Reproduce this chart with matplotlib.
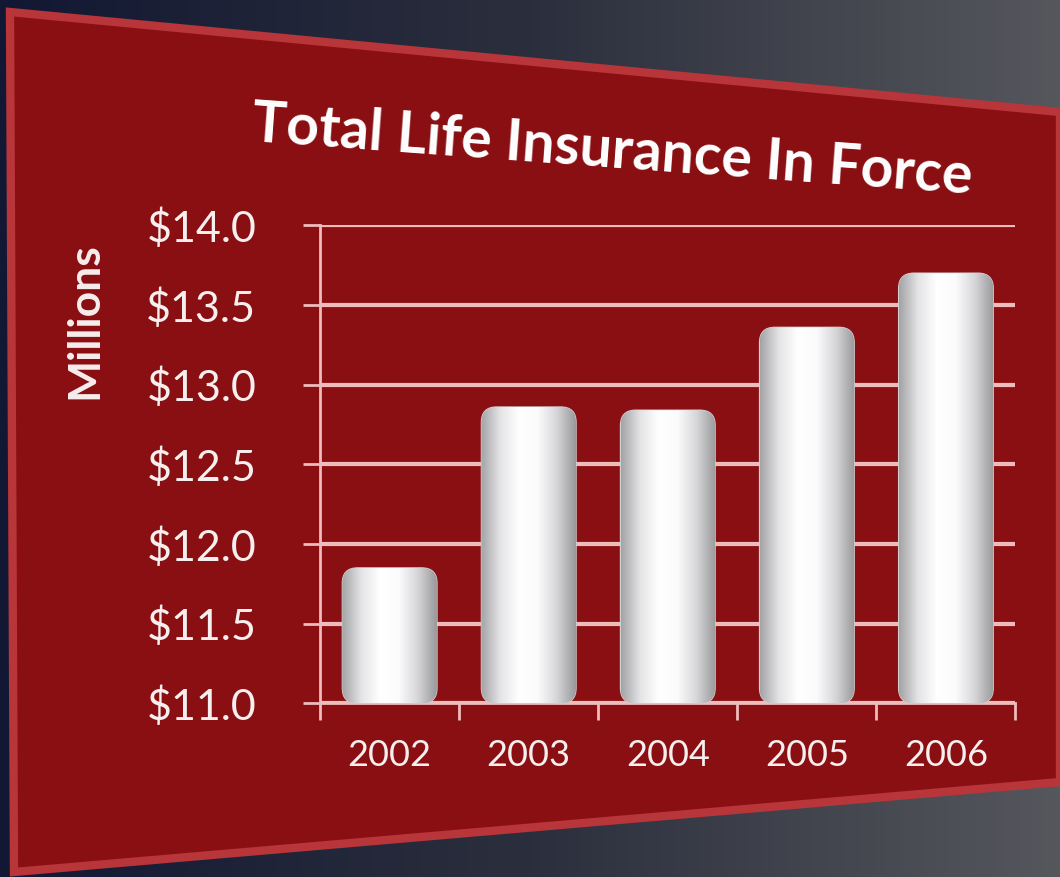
import numpy as np
import matplotlib.pyplot as plt
from matplotlib.patches import Polygon, FancyBboxPatch
from matplotlib.colors import LinearSegmentedColormap

plt.rcParams['font.family'] = ['Lato', 'DejaVu Sans']

years = ['2002', '2003', '2004', '2005', '2006']
insurance_millions = [11.85, 12.86, 12.84, 13.36, 13.70]
y_ticks = [11.0, 11.5, 12.0, 12.5, 13.0, 13.5, 14.0]
y_labels = ['$11.0', '$11.5', '$12.0', '$12.5', '$13.0', '$13.5', '$14.0']

TEXT = '#f7eeee'
GRID = '#efbcbc'

fig = plt.figure(figsize=(10.6, 8.77), dpi=100)

# dark backdrop behind the red panel
bg = fig.add_axes([0, 0, 1, 1])
bg.set_axis_off()
grad = np.linspace(0, 1, 256).reshape(1, -1)
bg.imshow(grad, extent=[0, 1, 0, 1], aspect='auto',
          cmap=LinearSegmentedColormap.from_list('bgc', ['#121833', '#2b2f3d', '#56575d']))
bg.set_xlim(0, 1)
bg.set_ylim(0, 1)

# skewed red panel (pixel corners -> figure fraction)
corners_px = [(10, 12), (1060, 112), (1060, 782), (14, 872)]
corners = [(x / 1060, 1 - y / 877) for x, y in corners_px]
bg.add_patch(Polygon(corners, closed=True, facecolor='#8a0f12',
                     edgecolor='#b8353a', linewidth=6))

ax = fig.add_axes([0.302, 0.198, 0.656, 0.545])
ax.patch.set_alpha(0)
ax.set_xlim(-0.5, len(years) - 0.5)
ax.set_ylim(11.0, 14.0)

x = np.arange(len(years))
bars = ax.bar(x, [v - 11.0 for v in insurance_millions], bottom=11.0,
              width=0.68, color='none', edgecolor='none', zorder=3)

# rounded, cylinder-like bars built on the bar geometry
fig.canvas.draw()
p0 = ax.transData.transform((0, 11.0))
p1 = ax.transData.transform((1, 12.0))
aspect = (p1[0] - p0[0]) / (p1[1] - p0[1])  # y-units per x-unit for equal pixels

shade = LinearSegmentedColormap.from_list(
    'cyl', ['#a4a4a7', '#e4e4e6', '#ffffff', '#fbfbfc', '#d6d6d9', '#9a9a9d'])
g = np.linspace(0, 1, 200).reshape(1, -1)
for b in bars:
    rounded = FancyBboxPatch((b.get_x(), b.get_y()), b.get_width(), b.get_height(),
                             boxstyle='round,pad=0,rounding_size=0.11',
                             mutation_aspect=aspect, facecolor='white',
                             edgecolor='#cfcfd2', linewidth=1, zorder=3)
    ax.add_patch(rounded)
    im = ax.imshow(g, cmap=shade, aspect='auto', zorder=4,
                   extent=[b.get_x(), b.get_x() + b.get_width(),
                           b.get_y(), b.get_y() + b.get_height()])
    im.set_clip_path(rounded)

ax.set_xlim(-0.5, len(years) - 0.5)
ax.set_ylim(11.0, 14.0)
ax.set_yticks(y_ticks)
ax.set_yticklabels(y_labels)
ax.yaxis.grid(True, color=GRID, linewidth=3)
ax.set_axisbelow(True)

ax.set_xticks(x)
ax.set_xticklabels(years)
ax.set_xticks(np.arange(len(years) + 1) - 0.5, minor=True)
ax.tick_params(axis='x', which='major', length=0, pad=26, labelsize=26, labelcolor=TEXT)
ax.tick_params(axis='x', which='minor', length=12, width=2, color=GRID, direction='out')
ax.tick_params(axis='y', length=12, width=2, color=GRID, pad=34, labelsize=31, labelcolor=TEXT)

for s in ['top', 'right']:
    ax.spines[s].set_visible(False)
for s in ['left', 'bottom']:
    ax.spines[s].set_color(GRID)
    ax.spines[s].set_linewidth(2)

ax.set_ylabel('Millions', fontsize=32, fontweight='bold', color=TEXT)
ax.yaxis.set_label_coords(-0.31, 0.8)

fig.text(0.578, 0.828, 'Total Life Insurance In Force', ha='center', va='center',
         fontsize=41, fontweight='bold', color='white', rotation=-4.2)

fig.savefig('out.png', dpi=100)
